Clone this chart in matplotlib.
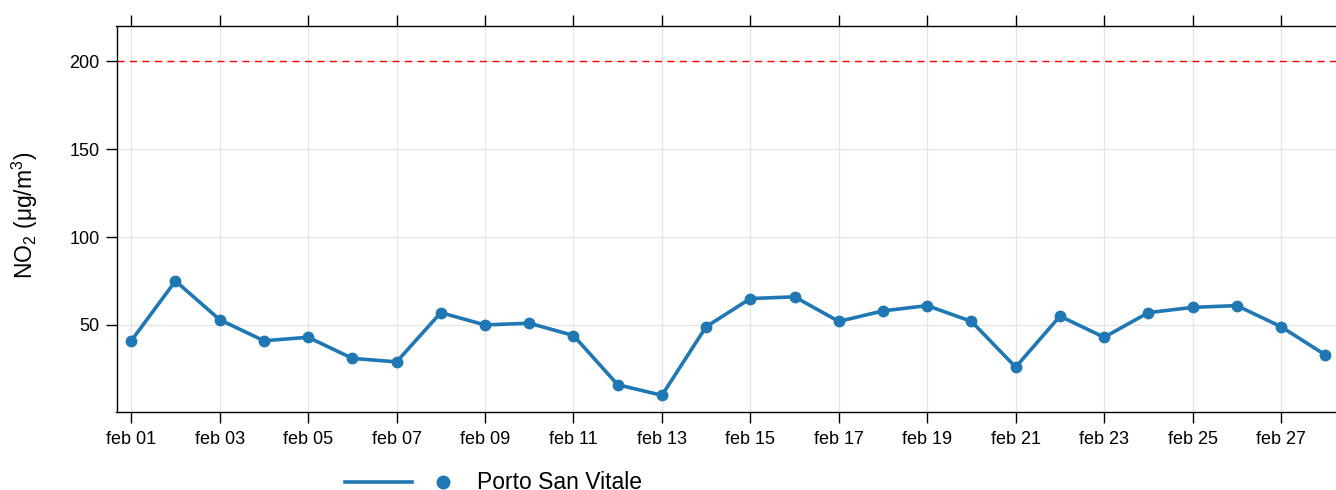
import pandas as pd
import matplotlib
matplotlib.use("Agg")
import matplotlib.pyplot as plt
from matplotlib.lines import Line2D

plt.rcParams['font.family'] = ['Liberation Sans', 'DejaVu Sans']
plt.rcParams['mathtext.fontset'] = 'custom'
plt.rcParams['mathtext.rm'] = 'Liberation Sans'

# daily NO2 at Porto San Vitale, february
dates = pd.date_range("2023-02-01", "2023-02-28", freq="D")
no2 = [41, 75, 53, 41, 43, 31, 29, 57, 50, 51, 44, 16, 10, 49,
       65, 66, 52, 58, 61, 52, 26, 55, 43, 57, 60, 61, 49, 33]
limit = 200
station = "Porto San Vitale"

tick_dates = dates[::2]
tick_labels = ["feb 01", "feb 03", "feb 05", "feb 07", "feb 09", "feb 11", "feb 13",
               "feb 15", "feb 17", "feb 19", "feb 21", "feb 23", "feb 25", "feb 27"]
y_ticks = [0, 50, 100, 150, 200]
y_labels = ["", "50", "100", "150", "200"]

col = "#1f78b4"

fig = plt.figure(figsize=(13.36, 4.9), dpi=100)
ax = fig.add_axes([116.5 / 1336, 1 - 412 / 490, (1340 - 116.5) / 1336, (412 - 26) / 490])

ax.grid(True, color="#e6e6e6", linewidth=1)
ax.set_axisbelow(True)
ax.axhline(limit, color="red", linestyle=(0, (5, 4)), linewidth=1)
ax.plot(dates, no2, color=col, linewidth=2.6, marker="o", markersize=7.5, zorder=3)

ax.set_xticks(tick_dates)
ax.set_xticklabels(tick_labels)
ax.set_yticks(y_ticks)
ax.set_yticklabels(y_labels)
ax.set_xlim(dates[0] - pd.Timedelta(hours=8), dates[-1] + pd.Timedelta(hours=8))
ax.set_ylim(0.5, 220)

ax.tick_params(axis="x", which="both", top=True, labeltop=False, direction="out",
               length=8, width=1, labelsize=13, pad=6)
ax.tick_params(axis="y", direction="out", length=8, width=1, labelsize=13, pad=4)
for s in ax.spines.values():
    s.set_linewidth(1)

ax.set_ylabel(r"NO$_2$ ($\mathrm{\mu}$g/m$^3$)", fontsize=16.5)
ax.yaxis.set_label_coords(-0.0625, 0.51)

# legend below the panel
fig.add_artist(Line2D([345 / 1336, 412 / 1336], [1 - 482 / 490] * 2, color=col, linewidth=2.6))
fig.add_artist(Line2D([443 / 1336], [1 - 482 / 490], color=col, marker="o", markersize=9, linestyle="none"))
fig.text(477 / 1336, 1 - 482 / 490, station, fontsize=16.5, va="center", ha="left")

fig.savefig("out.png", dpi=100)
